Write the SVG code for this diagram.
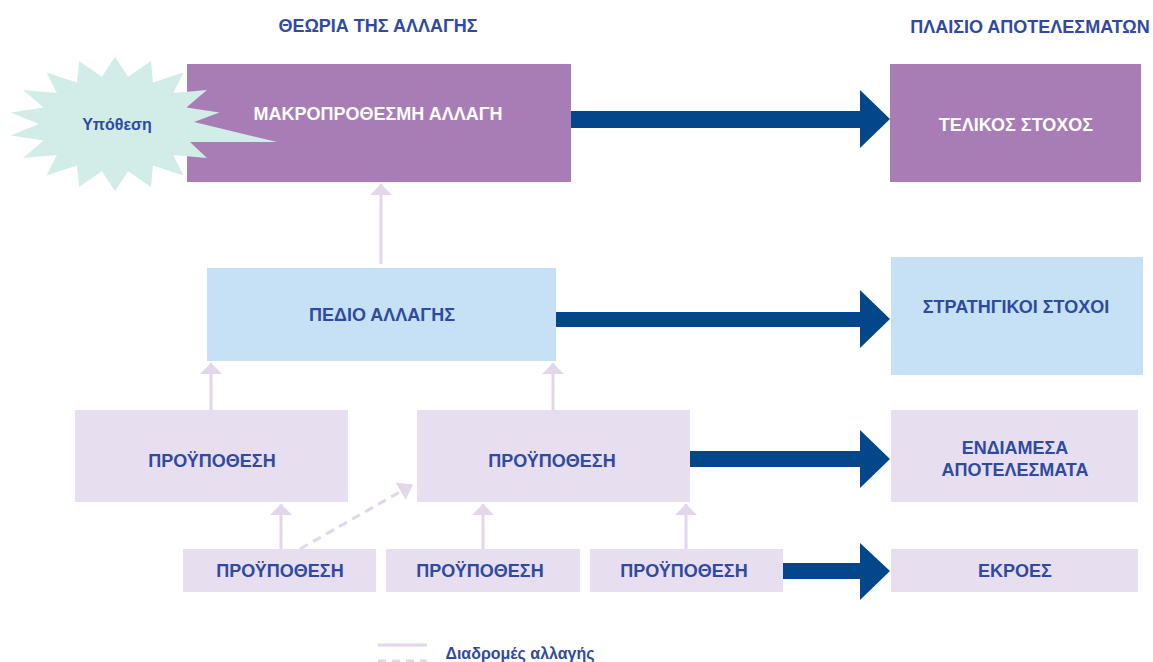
<svg xmlns="http://www.w3.org/2000/svg" width="1153" height="662" viewBox="0 0 1153 662">
<style>
text{font-family:"Liberation Sans",Arial,sans-serif;font-weight:bold;text-anchor:middle}
.t{font-size:18px;fill:#2f4aa0}
.w{font-size:18px;fill:#ffffff}
.purple{fill:#a87db6}
.lblue{fill:#c6e1f5}
.lav{fill:#e7dff0}
.big{fill:#03478a}
.thin{stroke:#e2d6ea;stroke-width:3;fill:none}
.dash{stroke:#e2d6ea;stroke-width:3;fill:none;stroke-dasharray:9 6}
</style>
<defs>
<marker id="ah" markerUnits="userSpaceOnUse" markerWidth="12" markerHeight="22" refX="11" refY="11" orient="auto" viewBox="0 0 12 22">
<path d="M0,0 L11,11 L0,22 Z" fill="#e2d6ea"/>
</marker>
<marker id="ah2" markerUnits="userSpaceOnUse" markerWidth="14" markerHeight="20" refX="13" refY="10" orient="auto" viewBox="0 0 14 20">
<path d="M0,0 L14,10 L0,20 Z" fill="#e2d6ea"/>
</marker>
</defs>
<rect width="1153" height="662" fill="#ffffff"/>
<text class="t" x="378" y="32">ΘΕΩΡΙΑ ΤΗΣ ΑΛΛΑΓΗΣ</text>
<text class="t" x="1030" y="33">ΠΛΑΙΣΙΟ ΑΠΟΤΕΛΕΣΜΑΤΩΝ</text>
<g id="longterm">
<rect class="purple" x="187" y="64" width="384" height="118"/>
<text class="w" x="378" y="120">ΜΑΚΡΟΠΡΟΘΕΣΜΗ ΑΛΛΑΓΗ</text>
</g>
<g id="hypothesis">
<polygon fill="#d2ede7" points="115,57 128.2,76.7 150.9,61 153,82.4 183.5,72.4 173.2,93.1 206.9,90 186.4,107.6 219.4,112.5 194,122 277,142 190,142 206.9,158 173.2,154.9 183.5,175.6 153,165.6 150.9,187 128.2,171.3 115,191 101.8,171.3 79.1,187 77,165.6 46.5,175.6 56.8,154.9 23.1,158 43.6,140.4 10.6,135.5 39,124 10.6,112.5 43.6,107.6 23.1,90 56.8,93.1 46.5,72.4 77,82.4 79.1,61 101.8,76.7"/>
<text x="117" y="130" style="font-size:16px;fill:#2f4aa0">Υπόθεση</text>
</g>
<g id="final">
<rect class="purple" x="890" y="64" width="251" height="118"/>
<text class="w" x="1016" y="131">ΤΕΛΙΚΟΣ ΣΤΟΧΟΣ</text>
</g>
<g id="domain">
<rect class="lblue" x="207" y="268" width="349" height="93"/>
<text class="t" x="382" y="321">ΠΕΔΙΟ ΑΛΛΑΓΗΣ</text>
</g>
<g id="strategic">
<rect class="lblue" x="891" y="257" width="252" height="118"/>
<text class="t" x="1016" y="313">ΣΤΡΑΤΗΓΙΚΟΙ ΣΤΟΧΟΙ</text>
</g>
<g id="pre-left">
<rect class="lav" x="75" y="410" width="273" height="92"/>
<text class="t" x="212" y="467">ΠΡΟΫΠΟΘΕΣΗ</text>
</g>
<g id="pre-right">
<rect class="lav" x="417" y="410" width="273" height="92"/>
<text class="t" x="552" y="467">ΠΡΟΫΠΟΘΕΣΗ</text>
</g>
<g id="intermediate">
<rect class="lav" x="891" y="410" width="247" height="92"/>
<text class="t" x="1015" y="454">ΕΝΔΙΑΜΕΣΑ</text>
<text class="t" x="1015" y="476">ΑΠΟΤΕΛΕΣΜΑΤΑ</text>
</g>
<g id="pre-b1">
<rect class="lav" x="183" y="549" width="193" height="43"/>
<text class="t" x="280" y="577">ΠΡΟΫΠΟΘΕΣΗ</text>
</g>
<g id="pre-b2">
<rect class="lav" x="386" y="549" width="194" height="43"/>
<text class="t" x="480" y="577">ΠΡΟΫΠΟΘΕΣΗ</text>
</g>
<g id="pre-b3">
<rect class="lav" x="590" y="549" width="193" height="43"/>
<text class="t" x="684" y="577">ΠΡΟΫΠΟΘΕΣΗ</text>
</g>
<g id="outputs">
<rect class="lav" x="891" y="549" width="247" height="43"/>
<text class="t" x="1015" y="577">ΕΚΡΟΕΣ</text>
</g>
<g id="connectors">
<path class="big" d="M571,111 H860 V90 L890,119 L860,148 V128 H571 Z"/>
<path class="big" d="M556,312 H860 V290 L890,319 L860,348 V327 H556 Z"/>
<path class="big" d="M690,451 H860 V430 L890,459 L860,488 V467 H690 Z"/>
<path class="big" d="M783,563 H860 V543 L890,571 L860,600 V579 H783 Z"/>
<line class="thin" x1="381" y1="264" x2="381" y2="184" marker-end="url(#ah)"/>
<line class="thin" x1="211" y1="410" x2="211" y2="363" marker-end="url(#ah)"/>
<line class="thin" x1="553" y1="410" x2="553" y2="363" marker-end="url(#ah)"/>
<line class="thin" x1="281" y1="549" x2="281" y2="504" marker-end="url(#ah)"/>
<line class="thin" x1="483" y1="549" x2="483" y2="504" marker-end="url(#ah)"/>
<line class="thin" x1="686" y1="549" x2="686" y2="504" marker-end="url(#ah)"/>
<line class="dash" x1="300" y1="549" x2="412" y2="485" marker-end="url(#ah2)"/>
</g>
<g id="legend">
<line class="thin" x1="378" y1="645" x2="427" y2="645"/>
<line class="dash" x1="378" y1="661" x2="427" y2="661" style="stroke-dasharray:8 6"/>
<text x="520" y="659" style="font-size:16px;fill:#2f4aa0">Διαδρομές αλλαγής</text>
</g>
</svg>
